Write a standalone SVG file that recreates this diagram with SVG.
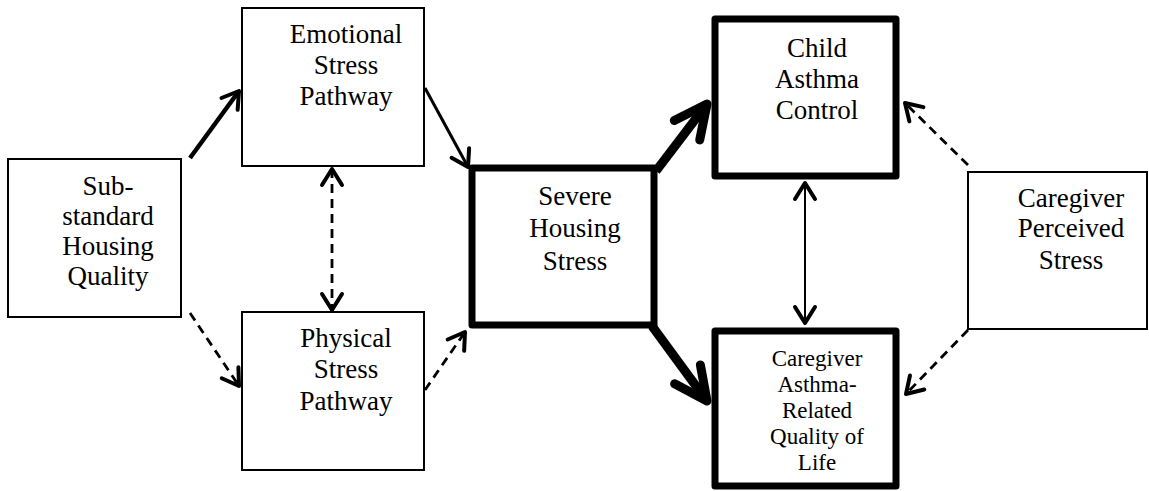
<svg xmlns="http://www.w3.org/2000/svg" width="1149" height="491" viewBox="0 0 1149 491">
<style>
.box{fill:#fff;stroke:#000;stroke-width:2}
.bold{fill:#fff;stroke:#000;stroke-width:7;stroke-linejoin:round}
.t{font-family:"Liberation Serif","Times New Roman",serif;font-size:27px;fill:#000;text-anchor:middle}
.ts{font-family:"Liberation Serif","Times New Roman",serif;font-size:23px;fill:#000;text-anchor:middle}
.c{fill:none;stroke:#000;stroke-linecap:butt}
.solid{stroke-width:3.5}
.dash{stroke-width:2.8;stroke-dasharray:9 6}
.thick{stroke-width:9}
.thin{stroke-width:2}
</style>
<defs>
<marker id="am" markerUnits="userSpaceOnUse" viewBox="-22 -16 28 32" markerWidth="28" markerHeight="32" refX="0" refY="0" orient="auto-start-reverse" overflow="visible">
<path d="M-16,-10 L0,0 L-16,10" fill="none" stroke="#000" stroke-width="4" stroke-dasharray="none" stroke-linecap="round" stroke-linejoin="round"/>
</marker>
<marker id="al" markerUnits="userSpaceOnUse" viewBox="-40 -22 48 44" markerWidth="48" markerHeight="44" refX="0" refY="0" orient="auto" overflow="visible">
<path d="M-33,-16 L0,0 L-33,16" fill="none" stroke="#000" stroke-width="9" stroke-dasharray="none" stroke-linecap="round" stroke-linejoin="round"/>
</marker>
</defs>

<g id="n-substandard">
<rect class="box" x="8" y="159" width="173" height="158"/>
<text class="t" x="108" y="195">Sub-</text>
<text class="t" x="108" y="225">standard</text>
<text class="t" x="108" y="255">Housing</text>
<text class="t" x="108" y="285">Quality</text>
</g>

<g id="n-emotional">
<rect class="box" x="242" y="8" width="182" height="158"/>
<text class="t" x="346" y="43">Emotional</text>
<text class="t" x="346" y="74">Stress</text>
<text class="t" x="346" y="105">Pathway</text>
</g>

<g id="n-physical">
<rect class="box" x="242" y="312" width="182" height="158"/>
<text class="t" x="346" y="347">Physical</text>
<text class="t" x="346" y="378">Stress</text>
<text class="t" x="346" y="410">Pathway</text>
</g>

<g id="n-severe">
<rect class="bold" x="472" y="168" width="182" height="157"/>
<text class="t" x="575" y="205">Severe</text>
<text class="t" x="575" y="237">Housing</text>
<text class="t" x="575" y="270">Stress</text>
</g>

<g id="n-child">
<rect class="bold" x="715" y="19" width="181" height="157"/>
<text class="t" x="817" y="57">Child</text>
<text class="t" x="817" y="88">Asthma</text>
<text class="t" x="817" y="119">Control</text>
</g>

<g id="n-qol">
<rect class="bold" x="715" y="331" width="181" height="155"/>
<text class="ts" x="817" y="366">Caregiver</text>
<text class="ts" x="817" y="392">Asthma-</text>
<text class="ts" x="817" y="418">Related</text>
<text class="ts" x="817" y="444">Quality of</text>
<text class="ts" x="817" y="470">Life</text>
</g>

<g id="n-perceived">
<rect class="box" x="968" y="172" width="179" height="157"/>
<text class="t" x="1071" y="207">Caregiver</text>
<text class="t" x="1071" y="237">Perceived</text>
<text class="t" x="1071" y="269">Stress</text>
</g>

<g id="connectors">
<path class="c solid" style="stroke-width:4.5" d="M190,158 L239,91" marker-end="url(#am)"/>
<path class="c solid" style="stroke-width:3" d="M425,88 L468,167" marker-end="url(#am)"/>
<path class="c dash" d="M190,313 L239,386" marker-end="url(#am)"/>
<path class="c dash" d="M332,169 L332,310" marker-start="url(#am)" marker-end="url(#am)"/>
<path class="c dash" d="M425,390 L465,332" marker-end="url(#am)"/>
<path class="c thick" d="M656,171 L707,104" marker-end="url(#al)"/>
<path class="c thick" d="M652,326 L707,401" marker-end="url(#al)"/>
<path class="c thin" d="M805,183 L805,323" marker-start="url(#am)" marker-end="url(#am)"/>
<path class="c dash" d="M968,165 L905,103" marker-end="url(#am)"/>
<path class="c dash" d="M968,330 L906,394" marker-end="url(#am)"/>
</g>
</svg>
